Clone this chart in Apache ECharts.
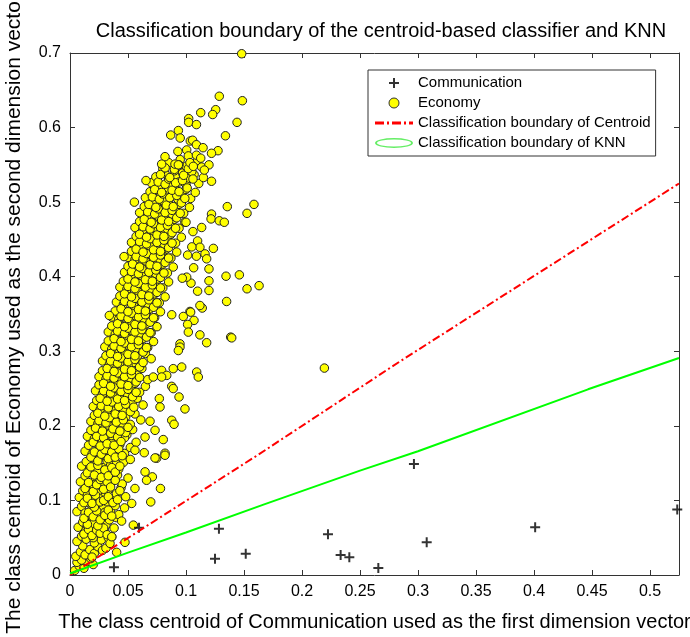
<!DOCTYPE html>
<html>
<head>
<meta charset="utf-8">
<script src="https://cdn.jsdelivr.net/npm/echarts@6/dist/echarts.min.js"></script>
<style>
html,body{margin:0;padding:0;background:#fff;}
#chart{width:690px;height:637px;}
</style>
</head>
<body>
<div id="chart"></div>
<script>
var xTickLabels = ['0','0.05','0.1','0.15','0.2','0.25','0.3','0.35','0.4','0.45','0.5'];
var yTickLabels = ['0','0.1','0.2','0.3','0.4','0.5','0.6','0.7'];

var communicationPoints = [
[0.0379,0.0103],[0.0595,0.0633],[0.125,0.0218],[0.1284,0.062],[0.1515,0.0285],
[0.2224,0.0545],[0.2333,0.0268],[0.2408,0.0237],[0.2658,0.0094],[0.2965,0.149],
[0.3075,0.0438],[0.401,0.064],[0.5235,0.088]
];

var economyCore = [
[0.004,0.006],[0.008,0.012],[0.012,0.009],[0.015,0.018],[0.02,0.014],[0.006,0.017],[0.01,0.02],[0.018,0.022],
[0.005,0.025],[0.009,0.031],[0.013,0.027],[0.017,0.034],[0.021,0.029],[0.024,0.038],[0.028,0.033],[0.011,0.039],[0.019,0.024],[0.031,0.036],
[0.006,0.045],[0.01,0.052],[0.014,0.048],[0.017,0.057],[0.021,0.043],[0.024,0.055],[0.027,0.047],[0.03,0.058],[0.033,0.05],[0.013,0.059],[0.036,0.051],[0.02,0.05],
[0.007,0.064],[0.011,0.071],[0.015,0.066],[0.018,0.075],[0.022,0.062],[0.025,0.071],[0.028,0.078],[0.031,0.067],[0.034,0.074],[0.038,0.063],[0.014,0.079],[0.02,0.069],[0.027,0.065],[0.04,0.077],
[0.006,0.085],[0.01,0.092],[0.013,0.083],[0.016,0.097],[0.019,0.088],[0.023,0.094],[0.026,0.082],[0.029,0.09],[0.032,0.098],[0.035,0.086],[0.039,0.093],[0.042,0.081],[0.017,0.081],[0.024,0.099],[0.03,0.084],
[0.008,0.104],[0.011,0.113],[0.015,0.107],[0.018,0.118],[0.021,0.102],[0.024,0.111],[0.027,0.119],[0.03,0.106],[0.033,0.114],[0.036,0.101],[0.04,0.109],[0.044,0.117],[0.048,0.105],[0.014,0.119],[0.025,0.103],[0.031,0.12],
[0.009,0.125],[0.013,0.133],[0.016,0.122],[0.019,0.138],[0.022,0.128],[0.025,0.135],[0.028,0.124],[0.031,0.131],[0.034,0.139],[0.037,0.126],[0.041,0.134],[0.045,0.122],[0.05,0.13],[0.02,0.121],[0.027,0.14],[0.036,0.137],
[0.01,0.146],[0.014,0.152],[0.017,0.143],[0.02,0.157],[0.023,0.149],[0.026,0.159],[0.029,0.144],[0.032,0.153],[0.035,0.147],[0.038,0.158],[0.042,0.142],[0.046,0.151],[0.052,0.155],[0.024,0.141],[0.031,0.16],[0.04,0.149],
[0.013,0.166],[0.016,0.174],[0.019,0.162],[0.022,0.177],[0.025,0.168],[0.028,0.179],[0.031,0.164],[0.034,0.172],[0.037,0.18],[0.04,0.167],[0.043,0.175],[0.047,0.163],[0.052,0.171],[0.057,0.178],[0.026,0.161],[0.035,0.161],
[0.015,0.186],[0.018,0.194],[0.021,0.183],[0.024,0.198],[0.027,0.189],[0.03,0.181],[0.033,0.196],[0.036,0.187],[0.039,0.193],[0.042,0.182],[0.045,0.199],[0.049,0.188],[0.054,0.195],[0.029,0.2],[0.038,0.2],[0.047,0.184],
[0.018,0.206],[0.021,0.214],[0.024,0.203],[0.027,0.218],[0.03,0.209],[0.033,0.201],[0.036,0.215],[0.039,0.207],[0.042,0.219],[0.045,0.204],[0.048,0.212],[0.052,0.202],[0.056,0.216],[0.061,0.208],[0.032,0.22],[0.041,0.213],
[0.02,0.226],[0.023,0.234],[0.026,0.222],[0.029,0.238],[0.032,0.229],[0.035,0.24],[0.038,0.223],[0.041,0.233],[0.044,0.227],[0.047,0.239],[0.05,0.224],[0.054,0.232],[0.058,0.237],[0.063,0.228],[0.037,0.231],[0.046,0.221],
[0.022,0.247],[0.025,0.255],[0.028,0.243],[0.031,0.258],[0.034,0.249],[0.037,0.241],[0.04,0.254],[0.043,0.246],[0.046,0.259],[0.049,0.244],[0.052,0.252],[0.056,0.257],[0.06,0.245],[0.065,0.253],[0.039,0.26],[0.051,0.26],
[0.025,0.266],[0.028,0.274],[0.031,0.263],[0.034,0.278],[0.037,0.269],[0.04,0.261],[0.043,0.275],[0.046,0.267],[0.049,0.279],[0.052,0.264],[0.055,0.272],[0.058,0.268],[0.062,0.277],[0.067,0.262],[0.044,0.28],[0.036,0.281],
[0.028,0.287],[0.031,0.294],[0.034,0.283],[0.037,0.298],[0.04,0.289],[0.043,0.284],[0.046,0.296],[0.049,0.288],[0.052,0.299],[0.055,0.285],[0.058,0.293],[0.061,0.282],[0.065,0.297],[0.07,0.29],[0.05,0.281],[0.042,0.3],
[0.03,0.306],[0.033,0.314],[0.036,0.303],[0.039,0.318],[0.042,0.309],[0.045,0.301],[0.048,0.315],[0.051,0.307],[0.054,0.319],[0.057,0.304],[0.06,0.312],[0.063,0.317],[0.067,0.305],[0.072,0.313],[0.047,0.32],[0.055,0.311],
[0.033,0.326],[0.036,0.334],[0.039,0.323],[0.042,0.338],[0.045,0.329],[0.048,0.321],[0.051,0.335],[0.054,0.327],[0.057,0.339],[0.06,0.324],[0.063,0.332],[0.066,0.337],[0.07,0.325],[0.075,0.333],[0.05,0.34],[0.059,0.331],
[0.036,0.346],[0.039,0.354],[0.042,0.343],[0.045,0.358],[0.048,0.349],[0.051,0.341],[0.054,0.355],[0.057,0.347],[0.06,0.359],[0.063,0.344],[0.066,0.352],[0.069,0.357],[0.073,0.345],[0.078,0.353],[0.056,0.36],[0.064,0.351],
[0.04,0.366],[0.043,0.374],[0.046,0.363],[0.049,0.378],[0.052,0.369],[0.055,0.361],[0.058,0.375],[0.061,0.367],[0.064,0.379],[0.067,0.364],[0.07,0.372],[0.073,0.377],[0.077,0.365],[0.082,0.373],[0.059,0.38],[0.068,0.371],
[0.043,0.386],[0.046,0.394],[0.049,0.383],[0.052,0.398],[0.055,0.389],[0.058,0.381],[0.061,0.395],[0.064,0.387],[0.067,0.399],[0.07,0.384],[0.073,0.392],[0.076,0.397],[0.08,0.385],[0.085,0.393],[0.062,0.4],[0.071,0.391],
[0.047,0.406],[0.05,0.414],[0.053,0.403],[0.056,0.418],[0.059,0.409],[0.062,0.401],[0.065,0.415],[0.068,0.407],[0.071,0.419],[0.074,0.404],[0.077,0.412],[0.08,0.417],[0.084,0.405],[0.089,0.413],[0.066,0.42],[0.075,0.411],
[0.05,0.426],[0.053,0.434],[0.056,0.423],[0.059,0.438],[0.062,0.429],[0.065,0.421],[0.068,0.435],[0.071,0.427],[0.074,0.439],[0.077,0.424],[0.08,0.432],[0.083,0.437],[0.087,0.425],[0.092,0.433],[0.07,0.44],[0.079,0.431],
[0.053,0.446],[0.057,0.454],[0.06,0.443],[0.063,0.458],[0.066,0.449],[0.069,0.441],[0.072,0.455],[0.075,0.447],[0.078,0.459],[0.081,0.444],[0.084,0.452],[0.087,0.457],[0.091,0.445],[0.096,0.453],[0.074,0.46],
[0.056,0.466],[0.06,0.474],[0.063,0.463],[0.066,0.478],[0.069,0.469],[0.072,0.461],[0.075,0.475],[0.078,0.467],[0.081,0.479],[0.084,0.464],[0.087,0.472],[0.09,0.477],[0.094,0.465],[0.099,0.473],[0.077,0.48],
[0.06,0.486],[0.064,0.494],[0.067,0.483],[0.07,0.498],[0.073,0.489],[0.076,0.481],[0.079,0.495],[0.082,0.487],[0.085,0.499],[0.088,0.484],[0.091,0.492],[0.094,0.497],[0.098,0.485],[0.103,0.493],[0.081,0.5],
[0.065,0.506],[0.069,0.514],[0.072,0.503],[0.075,0.518],[0.078,0.509],[0.081,0.501],[0.084,0.515],[0.087,0.507],[0.09,0.519],[0.093,0.504],[0.096,0.512],[0.1,0.517],[0.104,0.505],[0.108,0.513],
[0.07,0.526],[0.074,0.534],[0.078,0.523],[0.082,0.538],[0.085,0.529],[0.088,0.521],[0.091,0.535],[0.094,0.527],[0.097,0.539],[0.1,0.524],[0.103,0.532],[0.107,0.537],[0.111,0.525],[0.115,0.533],
[0.08,0.545],[0.085,0.553],[0.09,0.542],[0.095,0.557],[0.1,0.548],[0.105,0.541],[0.11,0.556]
];

var economyDense = [
[0.012,0.055],[0.016,0.061],[0.019,0.053],[0.023,0.06],[0.026,0.056],[0.029,0.063],[0.032,0.054],[0.015,0.068],[0.024,0.066],
[0.012,0.076],[0.016,0.084],[0.02,0.078],[0.023,0.086],[0.026,0.074],[0.03,0.08],[0.033,0.087],[0.036,0.079],[0.021,0.091],
[0.012,0.097],[0.015,0.103],[0.019,0.096],[0.022,0.107],[0.026,0.098],[0.029,0.1],[0.033,0.105],[0.037,0.097],[0.041,0.101],
[0.013,0.116],[0.016,0.124],[0.02,0.112],[0.023,0.121],[0.026,0.128],[0.029,0.115],[0.032,0.125],[0.035,0.118],[0.039,0.127],[0.043,0.113],
[0.015,0.137],[0.018,0.145],[0.021,0.134],[0.024,0.147],[0.027,0.131],[0.03,0.141],[0.033,0.133],[0.036,0.144],[0.039,0.138],[0.043,0.146],
[0.018,0.158],[0.021,0.165],[0.024,0.153],[0.027,0.162],[0.03,0.168],[0.033,0.156],[0.036,0.165],[0.039,0.158],[0.042,0.169],[0.045,0.16],
[0.02,0.178],[0.023,0.186],[0.026,0.173],[0.029,0.184],[0.032,0.176],[0.035,0.19],[0.038,0.174],[0.041,0.185],[0.044,0.179],[0.048,0.191],
[0.022,0.197],[0.025,0.207],[0.028,0.193],[0.031,0.204],[0.034,0.211],[0.037,0.196],[0.04,0.205],[0.043,0.193],[0.046,0.208],[0.05,0.198],
[0.024,0.217],[0.027,0.227],[0.03,0.213],[0.033,0.224],[0.036,0.232],[0.039,0.216],[0.042,0.226],[0.045,0.214],[0.048,0.229],[0.052,0.219],[0.055,0.225],
[0.026,0.237],[0.029,0.247],[0.032,0.233],[0.035,0.244],[0.038,0.251],[0.041,0.236],[0.044,0.246],[0.047,0.234],[0.05,0.249],[0.054,0.239],[0.057,0.245],
[0.029,0.257],[0.032,0.267],[0.035,0.253],[0.038,0.264],[0.041,0.271],[0.044,0.256],[0.047,0.266],[0.05,0.254],[0.053,0.269],[0.057,0.259],[0.06,0.265],
[0.032,0.277],[0.035,0.287],[0.038,0.273],[0.041,0.284],[0.044,0.291],[0.047,0.276],[0.05,0.286],[0.053,0.274],[0.056,0.289],[0.06,0.279],[0.063,0.285],
[0.035,0.297],[0.038,0.307],[0.041,0.293],[0.044,0.304],[0.047,0.311],[0.05,0.296],[0.053,0.306],[0.056,0.294],[0.059,0.309],[0.063,0.299],[0.066,0.305],
[0.038,0.317],[0.041,0.327],[0.044,0.313],[0.047,0.324],[0.05,0.331],[0.053,0.316],[0.056,0.326],[0.059,0.314],[0.062,0.329],[0.066,0.319],[0.069,0.325],
[0.041,0.337],[0.044,0.347],[0.047,0.333],[0.05,0.344],[0.053,0.351],[0.056,0.336],[0.059,0.346],[0.062,0.334],[0.065,0.349],[0.069,0.339],[0.072,0.345],
[0.044,0.357],[0.047,0.367],[0.05,0.353],[0.053,0.364],[0.056,0.371],[0.059,0.356],[0.062,0.366],[0.065,0.354],[0.068,0.369],[0.072,0.359],[0.075,0.365],
[0.047,0.377],[0.05,0.387],[0.053,0.373],[0.056,0.384],[0.059,0.391],[0.062,0.376],[0.065,0.386],[0.068,0.374],[0.071,0.389],[0.075,0.379],[0.078,0.385],
[0.05,0.397],[0.053,0.407],[0.056,0.393],[0.059,0.404],[0.062,0.411],[0.065,0.396],[0.068,0.406],[0.071,0.394],[0.074,0.409],[0.078,0.399],[0.081,0.405],
[0.054,0.417],[0.057,0.427],[0.06,0.413],[0.063,0.424],[0.066,0.431],[0.069,0.416],[0.072,0.426],[0.075,0.414],[0.078,0.429],[0.082,0.419],[0.085,0.425],
[0.057,0.437],[0.06,0.447],[0.063,0.433],[0.066,0.444],[0.069,0.451],[0.072,0.436],[0.075,0.446],[0.078,0.434],[0.081,0.449],[0.085,0.439],[0.088,0.445],
[0.06,0.457],[0.063,0.467],[0.066,0.453],[0.069,0.464],[0.072,0.471],[0.075,0.456],[0.078,0.466],[0.081,0.454],[0.084,0.469],[0.088,0.459],[0.091,0.465],
[0.064,0.477],[0.067,0.487],[0.07,0.473],[0.073,0.484],[0.076,0.491],[0.079,0.476],[0.082,0.486],[0.085,0.474],[0.088,0.489],[0.092,0.479],[0.095,0.485],
[0.068,0.497],[0.071,0.507],[0.074,0.493],[0.077,0.504],[0.08,0.511],[0.083,0.496],[0.086,0.506],[0.089,0.494],[0.092,0.509],[0.096,0.499],[0.099,0.505],
[0.073,0.517],[0.076,0.527],[0.079,0.513],[0.082,0.524],[0.085,0.531],[0.088,0.516],[0.091,0.526],[0.094,0.514],[0.097,0.529],[0.101,0.519],
[0.078,0.537],[0.082,0.546],[0.086,0.533],[0.09,0.544],[0.094,0.55],[0.098,0.536],[0.102,0.545],[0.106,0.531]
];

var economyOutliers = [
[0.148,0.699],[0.1287,0.642],[0.1486,0.636],[0.1256,0.624],[0.123,0.6175],[0.1127,0.62],[0.1023,0.612],[0.1023,0.607],[0.109,0.604],[0.144,0.607],[0.134,0.589],[0.0934,0.596],[0.0868,0.59],[0.095,0.586],[0.1037,0.582],[0.1057,0.583],[0.109,0.577],[0.1147,0.573],[0.093,0.568],[0.1006,0.57],[0.1276,0.569],[0.122,0.5655],[0.0819,0.561],[0.102,0.562],[0.109,0.563],[0.1127,0.559],[0.079,0.551],[0.0905,0.551],[0.0934,0.55],[0.1034,0.553],[0.1063,0.548],[0.1135,0.547],[0.1198,0.55],[0.1158,0.543],
[0.0655,0.529],[0.122,0.528],[0.0555,0.5],[0.1356,0.494],[0.1586,0.497],[0.1526,0.485],[0.122,0.484],[0.1216,0.4775],[0.1287,0.475],[0.133,0.473],[0.1135,0.466],[0.106,0.4605],[0.1,0.473],[0.11,0.448],[0.112,0.4395],[0.1236,0.438],[0.105,0.44],[0.0466,0.427],[0.1164,0.4306],[0.1178,0.424],[0.109,0.4275],[0.1014,0.429],[0.1066,0.412],[0.1198,0.4105],[0.1345,0.4007],[0.146,0.4025],[0.1526,0.3838],[0.163,0.388],[0.135,0.3668],[0.1198,0.3945],[0.1198,0.3815],[0.11,0.3806],[0.1043,0.3914],[0.1006,0.3994],[0.0968,0.398],[0.114,0.358],[0.1034,0.3534],[0.112,0.3614],[0.0339,0.348],
[0.0877,0.349],[0.0977,0.3467],[0.104,0.3525],[0.1069,0.3414],[0.1014,0.336],[0.112,0.322],[0.1178,0.3115],[0.1385,0.319],[0.102,0.3257],[0.0948,0.31],[0.0948,0.3056],[0.0934,0.301],[0.0963,0.2789],[0.089,0.2767],[0.079,0.2744],[0.1092,0.2722],[0.1106,0.2655],[0.0834,0.2677],[0.079,0.2655],[0.0718,0.2655],[0.0877,0.253],[0.089,0.25],[0.094,0.2387],[0.077,0.2366],[0.0776,0.2253],[0.0991,0.2227],[0.0877,0.2075],[0.0897,0.2021],[0.069,0.2062],[0.0733,0.194],[0.0647,0.185],[0.0804,0.1816],[0.0819,0.1633],[0.0747,0.1566],[0.064,0.164],[0.056,0.1673],[0.1394,0.318],[0.2193,0.2775],
[0.0733,0.157],[0.0819,0.1606],[0.0647,0.1383],[0.071,0.1316],[0.066,0.127],[0.078,0.116],[0.0696,0.098],[0.056,0.116],[0.0532,0.096],[0.047,0.09],[0.0445,0.0723],[0.0546,0.0669],[0.0474,0.0438],[0.0402,0.0304],[0.0345,0.0424],[0.036,0.0513]
];

var centroidBoundary = [[0,0],[0.162,0.161],[0.2845,0.2865],[0.525,0.525]];
var knnBoundary = [[0,0.002],[0.05,0.03],[0.1,0.057],[0.168,0.095],[0.25,0.14],[0.3,0.166],[0.4466,0.249],[0.525,0.291]];

var FONT = 'Liberation Sans, Arial, sans-serif';
var chart = echarts.init(document.getElementById('chart'));

function fmtX(v){ for (var i=0;i<xTickLabels.length;i++){ if (Math.abs(parseFloat(xTickLabels[i])-v)<1e-6) return xTickLabels[i]; } return ''; }
function fmtY(v){ for (var i=0;i<yTickLabels.length;i++){ if (Math.abs(parseFloat(yTickLabels[i])-v)<1e-6) return yTickLabels[i]; } return ''; }

var axisLineStyle = {color:'#333', width:1};
var plusPath = 'path://M4,0H6V4H10V6H6V10H4V6H0V4H4Z';
var dashDotPath = 'path://M0,0H9V3H0Z M12,0H14V3H12Z M17,0H26V3H17Z M29,0H31V3H29Z M34,0H38V3H34Z';
var ellipsePath = 'path://M0,5A19,5 0 1,1 38,5A19,5 0 1,1 0,5Z M2,5A17,3.4 0 1,0 36,5A17,3.4 0 1,0 2,5Z';

chart.setOption({
  animation:false,
  backgroundColor:'#fff',
  title:{
    text:'Classification boundary of the centroid-based classifier and KNN',
    left:376, top:16, textAlign:'center',
    textStyle:{fontFamily:FONT, fontSize:20, fontWeight:'normal', color:'#000'}
  },
  grid:{left:70, right:11, top:53, bottom:62, containLabel:false, outerBoundsMode:'none'},
  legend:{
    orient:'vertical', left:368, top:70,
    backgroundColor:'#fff', borderColor:'#333', borderWidth:1,
    padding:[5,5,5,7], itemWidth:38, itemHeight:10, itemGap:4,
    textStyle:{fontFamily:FONT, fontSize:15, color:'#000', lineHeight:16},
    selectedMode:false,
    data:[
      {name:'Communication', icon:plusPath, itemStyle:{color:'#000', borderWidth:0}},
      {name:'Economy', icon:'circle', itemStyle:{color:'#ffff00', borderColor:'#333', borderWidth:1}},
      {name:'Classification boundary of Centroid', icon:dashDotPath, itemStyle:{color:'#ff0000', borderWidth:0}},
      {name:'Classification boundary of KNN', icon:ellipsePath, itemStyle:{color:'#66ee66', borderWidth:0}}
    ]
  },
  xAxis:[{
    type:'value', min:0, max:0.525, interval:0.05,
    name:'The class centroid of Communication used as the first dimension vector',
    nameLocation:'middle', nameGap:37,
    nameTextStyle:{fontFamily:FONT, fontSize:20, color:'#000'},
    axisLine:{show:true, onZero:false, lineStyle:axisLineStyle},
    axisTick:{show:true, inside:true, length:5, lineStyle:axisLineStyle},
    axisLabel:{fontFamily:FONT, fontSize:16, color:'#000', margin:9, formatter:fmtX, showMaxLabel:false},
    splitLine:{show:false}
  },{
    type:'value', position:'top', min:0, max:0.525, interval:0.05,
    axisLine:{show:true, onZero:false, lineStyle:axisLineStyle},
    axisTick:{show:true, inside:true, length:5, lineStyle:axisLineStyle},
    axisLabel:{show:false}, splitLine:{show:false}
  }],
  yAxis:[{
    type:'value', min:0, max:0.7, interval:0.1,
    name:'The class centroid of Economy used as the second dimension vector',
    nameLocation:'middle', nameGap:45, nameRotate:90,
    nameTextStyle:{fontFamily:FONT, fontSize:21, color:'#000'},
    axisLine:{show:true, onZero:false, lineStyle:axisLineStyle},
    axisTick:{show:true, inside:true, length:5, lineStyle:axisLineStyle},
    axisLabel:{fontFamily:FONT, fontSize:16, color:'#000', margin:9, formatter:fmtY},
    splitLine:{show:false}
  },{
    type:'value', position:'right', min:0, max:0.7, interval:0.1,
    axisLine:{show:true, onZero:false, lineStyle:axisLineStyle},
    axisTick:{show:true, inside:true, length:5, lineStyle:axisLineStyle},
    axisLabel:{show:false}, splitLine:{show:false}
  }],
  series:[
    {
      name:'Economy', type:'scatter', xAxisIndex:0, yAxisIndex:0,
      data:economyCore.concat(economyDense, economyOutliers),
      symbol:'circle', symbolSize:8.5, clip:false, large:false,
      itemStyle:{color:'#ffff00', borderColor:'#222', borderWidth:1, opacity:1},
      emphasis:{disabled:true}
    },
    {
      name:'Communication', type:'scatter', xAxisIndex:0, yAxisIndex:0,
      data:communicationPoints,
      symbol:plusPath, symbolSize:10, clip:false,
      itemStyle:{color:'#000'},
      emphasis:{disabled:true}
    },
    {
      name:'Classification boundary of Centroid', type:'line', xAxisIndex:0, yAxisIndex:0,
      data:centroidBoundary, showSymbol:false, symbol:'none',
      lineStyle:{color:'#ff0000', width:2, type:[8,3,2,3]},
      itemStyle:{color:'#ff0000'}
    },
    {
      name:'Classification boundary of KNN', type:'line', xAxisIndex:0, yAxisIndex:0,
      data:knnBoundary, showSymbol:false, symbol:'none',
      lineStyle:{color:'#00ff00', width:2},
      itemStyle:{color:'#66ee66'}
    }
  ]
});
</script>
</body>
</html>
